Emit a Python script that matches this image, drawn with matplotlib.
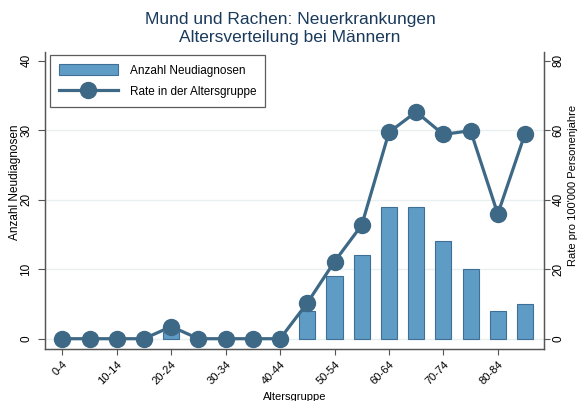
import numpy as np
import matplotlib
matplotlib.use("Agg")
import matplotlib.pyplot as plt
from matplotlib.lines import Line2D
from matplotlib.patches import Patch

plt.rcParams['font.family'] = ['Liberation Sans', 'DejaVu Sans']

# =========================
# Data
# =========================
age_groups = ["0-4", "5-9", "10-14", "15-19", "20-24", "25-29", "30-34", "35-39",
              "40-44", "45-49", "50-54", "55-59", "60-64", "65-69", "70-74",
              "75-79", "80-84", "85+"]
anzahl = [0, 0, 0, 0, 1, 0, 0, 0, 0, 4, 9, 12, 19, 19, 14, 10, 4, 5]
rate = [0, 0, 0, 0, 3.5, 0, 0, 0, 0, 10.3, 22.2, 32.7, 59.4, 65.3, 58.8, 59.9, 35.9, 59.0]

bar_color = '#5f9cc5'
bar_edge = '#3f6f95'
line_color = '#3e6986'
grid_color = '#e8f0f2'
axis_color = '#555555'

x = np.arange(len(age_groups))

fig = plt.figure(figsize=(5.8, 4.01), dpi=100)
ax1 = fig.add_axes([0.0776, 0.1297, 0.8604, 0.7403])

# =========================
# Bars (left axis)
# =========================
ax1.bar(x, anzahl, width=0.59, color=bar_color, edgecolor=bar_edge, linewidth=0.8, zorder=2)
ax1.set_ylim(-1.48, 41.25)
ax1.set_xlim(-0.64, 17.7)
ax1.set_yticks([0, 10, 20, 30, 40])
for v in [0, 10, 20, 30]:
    ax1.axhline(v, color=grid_color, linewidth=1.0, zorder=0)

ax1.set_xticks(x[::2])
ax1.set_xticklabels(age_groups[::2], rotation=45, ha='right', rotation_mode='anchor', fontsize=8)
ax1.tick_params(axis='y', labelrotation=90, labelsize=8.5, direction='out', length=5,
                color=axis_color, pad=4)
ax1.tick_params(axis='x', direction='out', length=4, color=axis_color)
for lbl in ax1.get_yticklabels():
    lbl.set_va('center')
ax1.set_ylabel("Anzahl Neudiagnosen", fontsize=8.5)
ax1.yaxis.set_label_coords(-0.048, 0.56)
ax1.set_xlabel("Altersgruppe", fontsize=8, labelpad=4)

# =========================
# Rate (right axis)
# =========================
ax2 = ax1.twinx()
ax2.plot(x, rate, color=line_color, linewidth=2.3, marker='o', markersize=11.5,
         markerfacecolor=line_color, markeredgecolor=line_color, zorder=3)
ax2.set_ylim(-2.96, 82.5)
ax2.set_yticks([0, 20, 40, 60, 80])
ax2.tick_params(axis='y', labelrotation=90, labelsize=8.5, direction='out', length=4,
                color=axis_color, pad=2)
for lbl in ax2.get_yticklabels():
    lbl.set_va('center')
ax2.set_ylabel("Rate pro 100'000 Personenjahre", fontsize=8)
ax2.yaxis.set_label_coords(1.049, 0.55)

for ax in (ax1, ax2):
    ax.spines['top'].set_visible(False)
    for s in ('left', 'right', 'bottom'):
        ax.spines[s].set_color(axis_color)
        ax.spines[s].set_linewidth(0.9)

# =========================
# Legend
# =========================
handles = [Patch(facecolor=bar_color, edgecolor=bar_edge, linewidth=0.8),
           Line2D([0], [0], color=line_color, linewidth=2.3, marker='o', markersize=11.5)]
leg = ax2.legend(handles, ["Anzahl Neudiagnosen", "Rate in der Altersgruppe"],
                 loc='upper left', bbox_to_anchor=(0.01, 0.99), borderaxespad=0,
                 fontsize=8.5, frameon=True, fancybox=False, edgecolor='#333333',
                 handlelength=5.0, handleheight=1.1, borderpad=0.75, labelspacing=0.75,
                 handletextpad=1.0)
leg.get_frame().set_linewidth(0.9)

fig.suptitle("Mund und Rachen: Neuerkrankungen\nAltersverteilung bei Männern",
             fontsize=12.5, color='#1a3a5c', y=0.97, linespacing=1.25)

plt.savefig("out.png", dpi=100)
